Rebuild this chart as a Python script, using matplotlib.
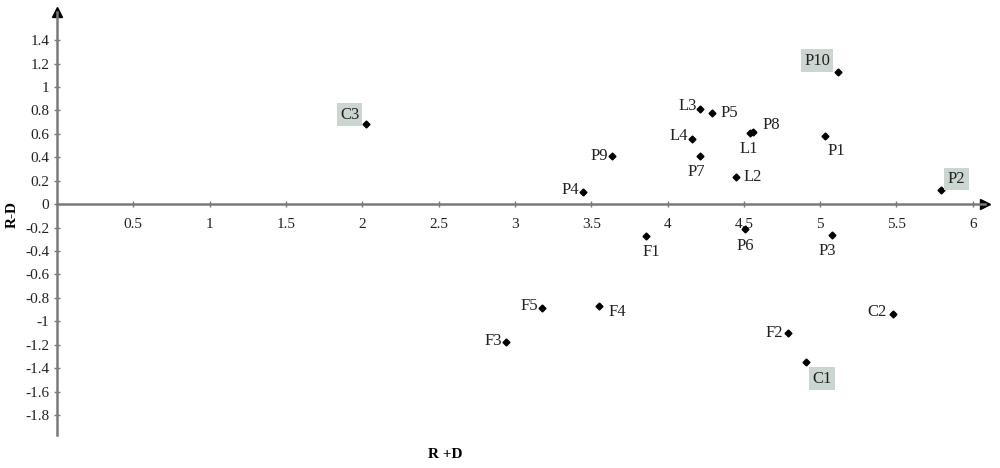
"""
Cause-effect diagram (R+D vs R-D) scatter with labelled factors
"""
import numpy as np
import matplotlib
matplotlib.use('Agg')
import matplotlib.pyplot as plt

# Data
labels = ['C3', 'P9', 'P4', 'F1', 'P10', 'L3', 'P5', 'P8', 'L1', 'L4', 'P1',
          'P7', 'L2', 'P2', 'P6', 'P3', 'F5', 'F4', 'F3', 'F2', 'C1', 'C2']
r_plus_d = [2.025, 3.635, 3.445, 3.857, 5.12, 4.21, 4.29, 4.56, 4.54, 4.16, 5.03,
            4.21, 4.45, 5.79, 4.51, 5.08, 3.18, 3.55, 2.94, 4.79, 4.905, 5.48]
r_minus_d = [0.68, 0.41, 0.10, -0.27, 1.13, 0.81, 0.775, 0.62, 0.61, 0.555, 0.58,
             0.415, 0.23, 0.12, -0.21, -0.26, -0.89, -0.87, -1.18, -1.10, -1.35, -0.94]
highlighted = ['C3', 'P10', 'P2', 'C1']

x_ticks = [0.5, 1, 1.5, 2, 2.5, 3, 3.5, 4, 4.5, 5, 5.5, 6]
y_ticks = [1.4, 1.2, 1, 0.8, 0.6, 0.4, 0.2, 0, -0.2, -0.4, -0.6, -0.8,
           -1, -1.2, -1.4, -1.6, -1.8]

# label offsets in points (dx, dy, ha, va)
offsets = {
    'C3': (-5, 7, 'right', 'center'), 'P9': (-3, 0, 'right', 'center'),
    'P4': (-3, 2, 'right', 'center'), 'F1': (-2, -6, 'left', 'top'),
    'P10': (-6, 8, 'right', 'center'), 'L3': (-2, 2, 'right', 'center'),
    'P5': (6, 0, 'left', 'center'), 'P8': (7, 5, 'left', 'center'),
    'L1': (-1, -6, 'center', 'top'), 'L4': (-3, 2, 'right', 'center'),
    'P1': (2, -5, 'left', 'top'), 'P7': (-2, -6, 'center', 'top'),
    'L2': (5, 0, 'left', 'center'), 'P2': (5, 8, 'left', 'center'),
    'P6': (0, -7, 'center', 'top'), 'P3': (-4, -6, 'center', 'top'),
    'F5': (-3, 2, 'right', 'center'), 'F4': (7, -4, 'left', 'center'),
    'F3': (-3, 1, 'right', 'center'), 'F2': (-4, 0, 'right', 'center'),
    'C1': (5, -6, 'left', 'top'), 'C2': (-5, 2, 'right', 'center'),
}

plt.rcParams['font.family'] = ['Liberation Serif', 'DejaVu Serif']

fig = plt.figure(figsize=(10, 4.68), dpi=100)
ax = fig.add_axes([0.057, 1 - 435 / 468, 0.928, (435 - 12) / 468])
ax.set_xlim(0, 6.08)
ax.set_ylim(-1.97, 1.64)

axis_color = '#7a7a7a'
for side in ['top', 'right']:
    ax.spines[side].set_visible(False)
ax.spines['left'].set_position(('data', 0))
ax.spines['bottom'].set_position(('data', 0))
for side in ['left', 'bottom']:
    ax.spines[side].set_color(axis_color)
    ax.spines[side].set_linewidth(1.8)

# arrow heads
ax.plot(1, 0, '>k', markersize=7, transform=ax.get_yaxis_transform(), clip_on=False)
ax.plot(0, 1, '^k', markersize=7, transform=ax.get_xaxis_transform(), clip_on=False)

ax.set_xticks(x_ticks)
ax.set_xticklabels([f'{t:g}' for t in x_ticks])
ax.set_yticks(y_ticks)
ax.set_yticklabels([f'{t:g}' for t in y_ticks])
ax.tick_params(direction='inout', length=4, width=1, color=axis_color,
               labelsize=11, labelcolor='#222222')
ax.tick_params(axis='x', pad=8)

ax.plot(r_plus_d, r_minus_d, 'D', color='black', markersize=3.5, linestyle='none')

for name, x, y in zip(labels, r_plus_d, r_minus_d):
    dx, dy, ha, va = offsets[name]
    bbox = None
    if name in highlighted:
        bbox = dict(boxstyle='square,pad=0.2', facecolor='#cbd6d1', edgecolor='none')
    ax.annotate(name, (x, y), xytext=(dx, dy), textcoords='offset points',
                ha=ha, va=va, fontsize=12, color='#222222', bbox=bbox)

fig.text(0.012, 1 - 215 / 468, 'R-D', rotation=90, fontsize=11, fontweight='bold',
         ha='center', va='center')
fig.text(0.445, 1 - 455 / 468, 'R +D', fontsize=11, fontweight='bold',
         ha='center', va='center')

plt.savefig('out.png', dpi=100)
plt.close()
